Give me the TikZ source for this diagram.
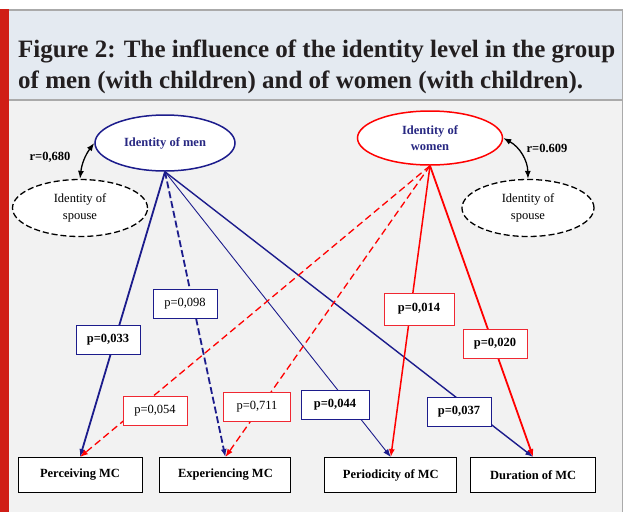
\documentclass[tikz,border=0pt]{standalone}
\usepackage{fontspec}
\setmainfont{Liberation Serif}
\usetikzlibrary{arrows.meta, shapes.geometric, positioning}
\definecolor{navy}{RGB}{28,28,140}
\definecolor{navytext}{RGB}{40,40,130}
\definecolor{barred}{RGB}{208,30,22}
\definecolor{titlebg}{RGB}{228,234,241}
\definecolor{frame}{RGB}{170,170,170}
\definecolor{diagbg}{RGB}{242,242,242}
\definecolor{pred}{RGB}{240,40,50}
\tikzset{%
>={Latex[width=6pt,length=8pt]},
  % Specifications for style of nodes:
            latent/.style = {ellipse, fill=white, line width=1.5pt,
                            text=navytext, align=center,
                            font=\fontsize{12.5}{16}\selectfont\bfseries},
            spouse/.style = {ellipse, draw=black, fill=white, line width=1.3pt,
                            dash pattern=on 6pt off 3pt, minimum width=135pt,
                            minimum height=57pt, align=center,
                            font=\fontsize{12.5}{17}\selectfont},
            outcome/.style = {rectangle, draw=black, fill=white, line width=0.9pt,
                            minimum height=35pt,
                            font=\fontsize{12.5}{15}\selectfont\bfseries},
            pbox/.style = {rectangle, fill=white, line width=0.8pt,
                            minimum width=64pt, minimum height=29pt,
                            font=\fontsize{12.5}{15}\selectfont},
            sig/.style = {font=\fontsize{12.5}{15}\selectfont\bfseries},
            titletext/.style = {anchor=base west, text={rgb,255:red,35;green,31;blue,32},
                            font=\fontsize{25}{31}\selectfont\bfseries}
}
\begin{document}
\begin{tikzpicture}[x=1pt, y=-1pt, every node/.style={inner sep=0pt}]
\useasboundingbox (0,0) rectangle (627,512);
\fill[diagbg] (9,100) rectangle (623,512);
\fill[barred] (0,9) rectangle (9,512);
\fill[titlebg] (9,9) rectangle (623,100);
\draw[frame, line width=1.5pt] (9,9.75) -- (622.25,9.75) -- (622.25,512);
\draw[frame, line width=1.5pt] (9,100) -- (622.25,100);
\node (t1) [titletext] at (18,57) {Figure 2: The influence of the identity level in the group};
\node (t2) [titletext] at (18,88) {of men (with children) and of women (with children).};

\node (1) [latent, draw=navy, minimum width=140pt, minimum height=56pt] at (165,143) {Identity of men};
\node (2) [latent, draw=red, minimum width=145pt, minimum height=54pt] at (430,138) {Identity of\\women};
\node (3) [spouse] at (80,208) {Identity of\\spouse};
\node (4) [spouse, minimum width=132pt] at (528,208) {Identity of\\spouse};

\node (5) [outcome, minimum width=124pt] at (80,475) {Perceiving MC};
\node (6) [outcome, minimum width=131pt, right=17pt of 5] {Experiencing MC};
\node (7) [outcome, minimum width=132pt, right=33pt of 6] {Periodicity of MC};
\node (8) [outcome, minimum width=125pt, right=13pt of 7] {Duration of MC};

\node (r1) [sig] at (50,157) {r=0,680};
\node (r2) [sig] at (547,148) {r=0.609};
\draw[<->, line width=1.3pt] (1.west) to[bend right=15] (3.north);
\draw[<->, line width=1.3pt] (2.east) to[bend left=30] (4.north);

\draw[->, navy, line width=1.8pt] (1.south) -- (5.north);
\draw[->, navy, line width=1.8pt, dash pattern=on 7pt off 3pt] (1.south) -- (6.north);
\draw[->, navy, line width=0.9pt] (1.south) -- (7.north);
\draw[->, navy, line width=1.4pt] (1.south) -- (8.north);
\draw[->, red, line width=1.3pt, dash pattern=on 7pt off 4pt] (2.south) -- (5.north);
\draw[->, red, line width=1.3pt, dash pattern=on 7pt off 4pt] (2.south) -- (6.north);
\draw[->, red, line width=1.5pt] (2.south) -- (7.north);
\draw[->, red, line width=1.8pt] (2.south) -- (8.north);

\node (p1) [pbox, sig, draw=navy] at (108,340) {p=0,033};
\node (p2) [pbox, draw=navy] at (185,304) {p=0,098};
\node (p3) [pbox, sig, draw=navy, minimum width=68pt] at (335,405) {p=0,044};
\node (p4) [pbox, sig, draw=navy] at (459,412) {p=0,037};
\node (p5) [pbox, draw=pred] at (155,411) {p=0,054};
\node (p6) [pbox, draw=pred, minimum width=67pt] at (257,407) {p=0,711};
\node (p7) [pbox, sig, draw=pred, minimum width=70pt, minimum height=32pt] at (419,309) {p=0,014};
\node (p8) [pbox, sig, draw=pred] at (495,344) {p=0,020};
\end{tikzpicture}
\end{document}
